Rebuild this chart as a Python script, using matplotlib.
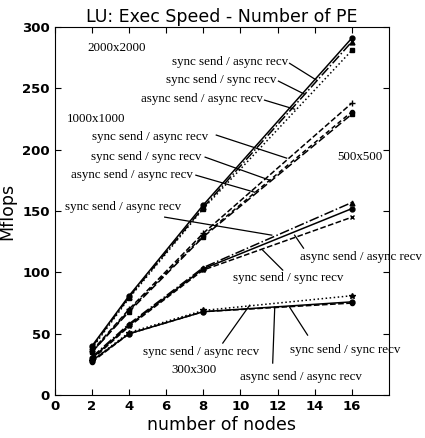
import numpy as np
import matplotlib.pyplot as plt

nodos = [2, 4, 8, 16]

# Mflops por tamaño de matriz (tres variantes de comunicación)
m2000_sa = [40, 81, 155, 291]
m2000_ss = [39, 80, 153, 288]
m2000_aa = [38, 79, 152, 281]

m1000_sa = [36, 70, 132, 238]
m1000_ss = [35, 69, 130, 231]
m1000_aa = [35, 68, 129, 229]

m500_sa = [31, 58, 104, 157]
m500_ss = [30, 57, 103, 152]
m500_aa = [29, 56, 102, 145]

m300_sa = [28, 51, 69, 81]
m300_ss = [28, 50, 68, 76]
m300_aa = [27, 50, 68, 75]

fig = plt.figure(figsize=(4.25, 4.38), dpi=100)
ax = fig.add_axes([0.129, 0.098, 0.786, 0.840])

k = dict(color='black', lw=1.1)
ax.plot(nodos, m2000_sa, ls='-', marker='o', ms=3.5, **k)
ax.plot(nodos, m2000_ss, ls='-.', marker='^', ms=3.5, **k)
ax.plot(nodos, m2000_aa, ls=':', marker='s', ms=3.5, **k)

ax.plot(nodos, m1000_sa, ls='--', marker='+', ms=4, **k)
ax.plot(nodos, m1000_ss, ls=(0, (3, 2)), marker='o', ms=3, **k)
ax.plot(nodos, m1000_aa, ls=(0, (5, 2)), marker='s', ms=3.5, **k)

ax.plot(nodos, m500_sa, ls='-.', marker='^', ms=3.5, **k)
ax.plot(nodos, m500_ss, ls='-', marker='o', ms=3.5, **k)
ax.plot(nodos, m500_aa, ls='--', marker='x', ms=3.5, **k)

ax.plot(nodos, m300_sa, ls=':', marker='*', ms=4, **k)
ax.plot(nodos, m300_ss, ls='-', marker='o', ms=3.5, **k)
ax.plot(nodos, m300_aa, ls='--', marker='o', ms=3, **k)

ax.set_xlim(0, 18)
ax.set_ylim(0, 300)
ax.set_xticks(np.arange(0, 17, 2))
ax.set_yticks(np.arange(0, 301, 50))
ax.tick_params(direction='in', top=True, right=True, labelsize=9.5, length=4)
for t in ax.get_xticklabels() + ax.get_yticklabels():
    t.set_fontweight('bold')
ax.set_title('LU: Exec Speed - Number of PE', fontsize=12.5, pad=4)
ax.set_xlabel('number of nodes', fontsize=12.5, labelpad=2)
ax.set_ylabel('Mflops', fontsize=12.5, labelpad=4)

sf = dict(family='Liberation Serif', fontsize=9.4, va='center')

# (texto, posición, alineación, inicio de línea, fin de línea)
etiquetas = [
    ('2000x2000', (1.78, 282.8), 'left', None, None),
    ('sync send / async recv', (12.55, 271.4), 'right', (12.65, 270.5), (14.11, 256.7)),
    ('sync send / sync recv', (11.95, 256.7), 'right', (12.05, 256.0), (13.46, 245.3)),
    ('async send / async recv', (11.2, 241.2), 'right', (11.3, 240.5), (12.92, 233.1)),
    ('1000x1000', (0.65, 225.0), 'left', None, None),
    ('sync send / async recv', (8.24, 210.3), 'right', (8.7, 212.0), (12.49, 193.2)),
    ('sync send / sync recv', (7.92, 194.0), 'right', (8.1, 194.0), (11.58, 175.2)),
    ('async send / async recv', (7.43, 179.3), 'right', (7.6, 179.3), (10.77, 165.4)),
    ('500x500', (16.42, 194.0), 'center', None, None),
    ('sync send / async recv', (0.54, 153.2), 'left', (5.92, 145.1), (11.69, 130.4)),
    ('async send / async recv', (13.2, 112.5), 'left', (13.4, 119.8), (12.92, 130.4)),
    ('sync send / sync recv', (9.59, 95.4), 'left', (12.28, 101.9), (11.2, 118.2)),
    ('sync send / async recv', (4.74, 35.0), 'left', (9.05, 42.4), (10.5, 73.3)),
    ('300x300', (6.3, 20.4), 'left', None, None),
    ('async send / async recv', (9.96, 14.7), 'left', (11.74, 26.1), (11.85, 71.7)),
    ('sync send / sync recv', (12.65, 36.7), 'left', (13.62, 48.9), (12.65, 71.7)),
]

for txt, pos, ha, ini, fin in etiquetas:
    ax.text(pos[0], pos[1], txt, ha=ha, clip_on=False, **sf)
    if ini is not None:
        ax.plot([ini[0], fin[0]], [ini[1], fin[1]], color='black', lw=0.9)

plt.savefig('out.png', dpi=100)
